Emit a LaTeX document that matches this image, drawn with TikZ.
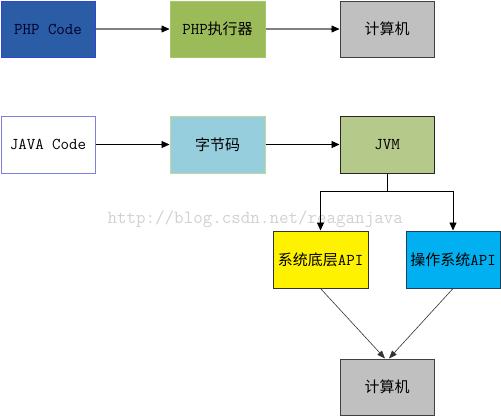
\documentclass[tikz,border=0pt]{standalone}
\usepackage{fontspec}
\newfontfamily\cjk{Noto Sans CJK SC}
\usetikzlibrary{arrows.meta}
\definecolor{phpblue}{HTML}{2B5CA6}
\definecolor{phpblueb}{HTML}{3344DD}
\definecolor{olgreen}{HTML}{9BBB59}
\definecolor{olgreenb}{HTML}{A8C46C}
\definecolor{grayf}{HTML}{C0C0C0}
\definecolor{grayb}{HTML}{404040}
\definecolor{javab}{HTML}{7F7FDF}
\definecolor{bytef}{HTML}{97CEDD}
\definecolor{byteb}{HTML}{C3D69B}
\definecolor{jvmf}{HTML}{B5C98A}
\definecolor{osf}{HTML}{00B0F0}
\definecolor{osb}{HTML}{1F3F60}
\definecolor{arrgray}{HTML}{808080}
\newcommand\lat[1]{{\fontsize{16.5}{18}\selectfont\ttfamily #1}}
\tikzset{
  box/.style={rectangle, draw, line width=1pt, minimum width=94pt, minimum height=56pt, inner sep=0pt,
    font=\fontsize{15}{18}\selectfont},
  gline/.style={draw=arrgray, line width=1.6pt, shorten >=7pt},
  gtip/.style={black, line width=0.5pt, -{Triangle[length=8pt,width=7pt]}},
  barrow/.style={draw=black, line width=0.9pt, -{Triangle[length=8pt,width=7pt]}},
  bline/.style={draw=black, line width=0.9pt},
  darrow/.style={draw=black!80, line width=0.6pt, -{Triangle[length=8pt,width=6pt]}},
}
\begin{document}
\begin{tikzpicture}[x=1pt,y=-1pt]
\useasboundingbox (0,0) rectangle (501,416);
\node[anchor=base west, text=black!18, font=\fontsize{18.5}{20}\selectfont\ttfamily] (wm) at (104,223) {http://blog.csdn.net/reaganjava};

\node[box, fill=phpblue, draw=phpblueb, text=black!85!blue] (phpc) at (48,29) {\lat{PHP Code}};
\node[box, fill=olgreen, draw=olgreenb, minimum width=95pt] (phpx) at (217.5,29) {\lat{PHP}\cjk 执行器};
\node[box, fill=grayf, draw=grayb] (comp1) at (387,29) {\cjk 计算机};

\node[box, fill=white, draw=javab, minimum height=57pt] (javac) at (48,144.5) {\lat{JAVA Code}};
\node[box, fill=bytef, draw=byteb, minimum width=95pt, minimum height=57pt] (bytec) at (217.5,144.5) {\cjk 字节码};
\node[box, fill=jvmf, draw=black!85, minimum height=57pt] (jvm) at (387,144.5) {\lat{JVM}};

\node[box, fill=yellow, draw=black!80, minimum width=95pt, minimum height=57pt] (sysapi) at (320.5,259.5) {\cjk 系统底层\lat{API}};
\node[box, fill=osf, draw=osb, minimum height=57pt] (osapi) at (453,259.5) {\cjk 操作系统\lat{API}};
\node[box, fill=grayf, draw=grayb] (comp2) at (387,387) {\cjk 计算机};

\draw[gline] (phpc) -- (phpx);
\draw[gline] (phpx) -- (comp1);
\draw[gtip] ([xshift=-9pt]phpx.west) -- (phpx.west);
\draw[gtip] ([xshift=-9pt]comp1.west) -- (comp1.west);
\draw[barrow] (javac) -- (bytec);
\draw[barrow] (bytec) -- (jvm);

\coordinate (split) at (387,191);
\draw[bline] (jvm.south) -- (split);
\draw[barrow] (split) -| (sysapi.north);
\draw[barrow] (split) -| (osapi.north);

\draw[darrow] (sysapi.south) -- ([xshift=-2pt]comp2.north);
\draw[darrow] (osapi.south) -- ([xshift=2pt]comp2.north);
\end{tikzpicture}
\end{document}
